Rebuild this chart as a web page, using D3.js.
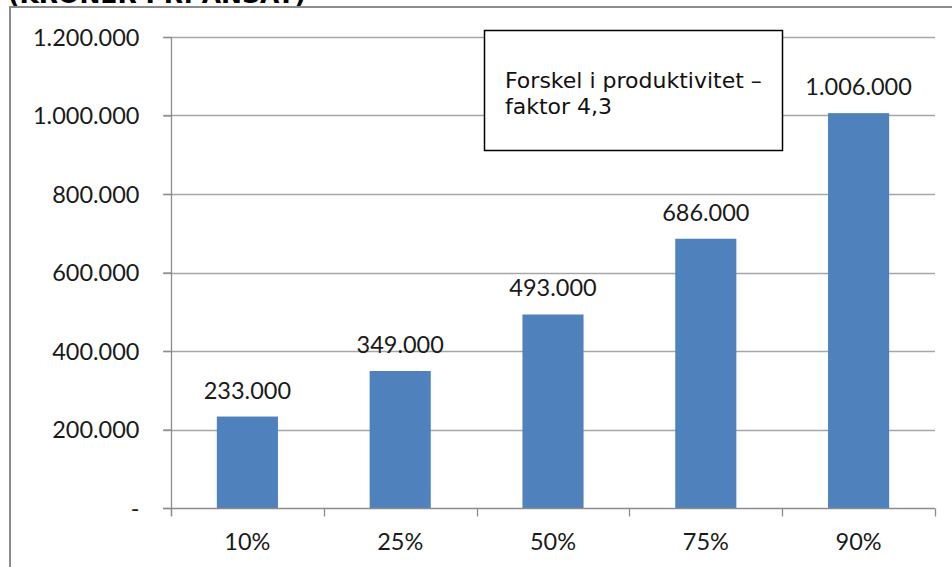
<!DOCTYPE html>
<html>
<head>
<meta charset="utf-8">
<script src="https://cdn.jsdelivr.net/npm/d3@7"></script>
<style>
  html, body { margin: 0; padding: 0; background: #fff; }
  svg { display: block; }
</style>
</head>
<body>
<svg id="chart" width="952" height="567"></svg>
<script>
// Percentile groups and the productivity value for each
const categories = ["10%", "25%", "50%", "75%", "90%"];
const values = [233000, 349000, 493000, 686000, 1006000];
const yTicks = [0, 200000, 400000, 600000, 800000, 1000000, 1200000];
const noteLines = ["Forskel i produktivitet –", "faktor 4,3"];
const headerText = "(KRONER PR. ANSAT)";

const svg = d3.select("#chart");
const W = 952, H = 567;

// Danish number format: dots as thousands separators
const fmt = d3.formatLocale({ decimal: ",", thousands: ".", grouping: [3], currency: ["", " kr."] }).format(",.0f");
const tickFmt = v => v === 0 ? "-" : fmt(v);

const plot = { left: 171, right: 935, top: 37, bottom: 508 };
const labelFont = "Lato, 'Open Sans', sans-serif";
const labelSize = 23.5;

const x = d3.scaleBand().domain(categories).range([plot.left, plot.right]).paddingInner(0.6).paddingOuter(0.3);
const xb = d3.scaleBand().domain(categories).range([plot.left, plot.right]);
const y = d3.scaleLinear().domain([0, 1200000]).range([plot.bottom, plot.top]);

// heading above the chart frame, running off the top edge
svg.append("text")
  .attr("x", 8).attr("y", 3)
  .attr("font-family", "DejaVu Sans, Verdana, sans-serif")
  .attr("font-weight", "bold").attr("font-size", 24)
  .attr("textLength", 298).attr("lengthAdjust", "spacingAndGlyphs")
  .attr("fill", "#000")
  .text(headerText);

// chart frame
svg.append("rect")
  .attr("x", 10).attr("y", 7).attr("width", W + 20).attr("height", H + 20)
  .attr("fill", "none").attr("stroke", "#8c8c8c").attr("stroke-width", 2);

// horizontal gridlines
svg.append("g").selectAll("line").data(yTicks.filter(d => d > 0)).join("line")
  .attr("x1", plot.left - 8).attr("x2", plot.right)
  .attr("y1", d => Math.round(y(d)) + 0.5).attr("y2", d => Math.round(y(d)) + 0.5)
  .attr("stroke", "#a6a6a6").attr("stroke-width", 1.3);

// y axis
const yAxis = svg.append("g")
  .attr("transform", `translate(${plot.left + 0.5},0)`)
  .call(d3.axisLeft(y).tickValues(yTicks).tickFormat(tickFmt).tickSize(8).tickPadding(24));
yAxis.select(".domain").attr("stroke", "#8c8c8c").attr("stroke-width", 1.3)
  .attr("d", `M0,${plot.top}V${plot.bottom + 8}`);
yAxis.selectAll(".tick line").attr("stroke", "#8c8c8c").attr("stroke-width", 1.3);
yAxis.selectAll(".tick text")
  .attr("font-family", labelFont).attr("font-size", labelSize).attr("fill", "#1a1a1a")
  .attr("dy", "0.35em");

// bars
svg.append("g").selectAll("rect").data(values).join("rect")
  .attr("x", (d, i) => x(categories[i]))
  .attr("width", x.bandwidth())
  .attr("y", d => y(d))
  .attr("height", d => y(0) - y(d))
  .attr("fill", "#4F81BD");

// x axis
const xAxis = svg.append("g")
  .attr("transform", `translate(0,${plot.bottom + 0.5})`)
  .call(d3.axisBottom(xb).tickSize(0).tickPadding(25));
xAxis.select(".domain").attr("stroke", "#8c8c8c").attr("stroke-width", 1.3)
  .attr("d", `M${plot.left - 8},0H${plot.right}`);
xAxis.selectAll(".tick text")
  .attr("font-family", labelFont).attr("font-size", labelSize).attr("fill", "#1a1a1a")
  .attr("dy", "0.72em");
// category separators below the axis
xAxis.append("g").selectAll("line")
  .data(categories.map(c => xb(c)).concat([plot.right]))
  .join("line")
  .attr("x1", d => Math.round(d) + 0.5).attr("x2", d => Math.round(d) + 0.5)
  .attr("y1", 0).attr("y2", 8)
  .attr("stroke", "#8c8c8c").attr("stroke-width", 1.3);

// value labels
svg.append("g").selectAll("text").data(values).join("text")
  .attr("x", (d, i) => x(categories[i]) + x.bandwidth() / 2)
  .attr("y", d => y(d) - 18)
  .attr("text-anchor", "middle")
  .attr("font-family", labelFont).attr("font-size", labelSize).attr("fill", "#1a1a1a")
  .text(d => fmt(d));

// annotation box
const box = { x: 484, y: 30, w: 298, h: 120 };
svg.append("rect")
  .attr("x", box.x + 0.5).attr("y", box.y + 0.5).attr("width", box.w).attr("height", box.h)
  .attr("fill", "#fff").attr("stroke", "#000").attr("stroke-width", 1.5);
svg.append("g").selectAll("text").data(noteLines).join("text")
  .attr("x", box.x + 21)
  .attr("y", (d, i) => box.y + 58 + i * 26)
  .attr("font-family", "DejaVu Sans, Verdana, sans-serif").attr("font-size", 22).attr("fill", "#111")
  .text(d => d);
</script>
</body>
</html>
